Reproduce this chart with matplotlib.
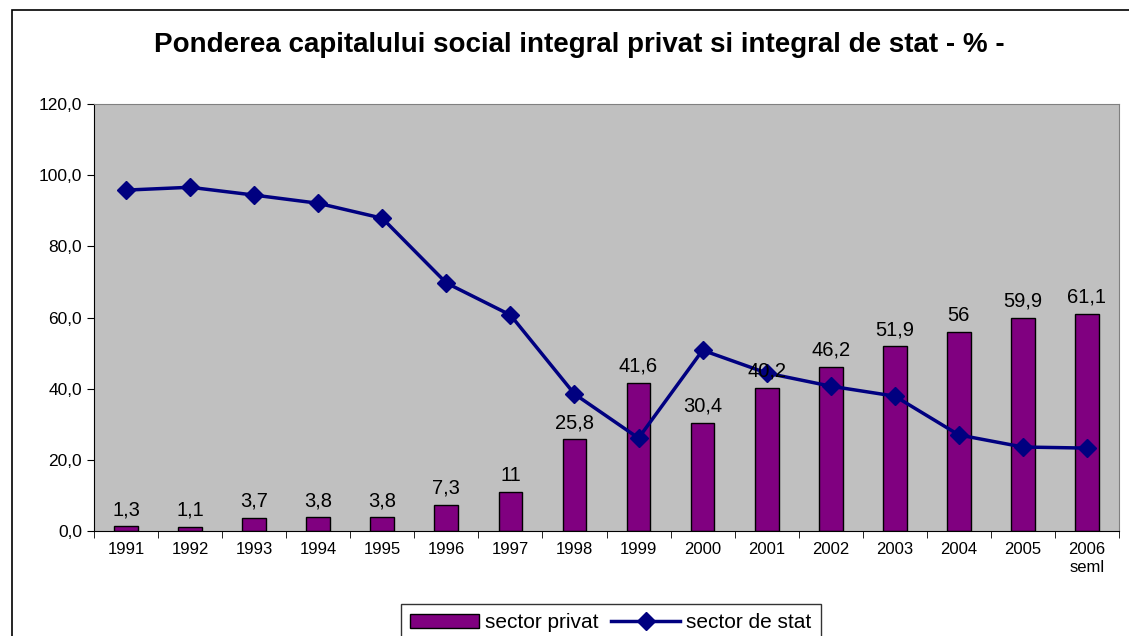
import matplotlib.pyplot as plt
import numpy as np
from matplotlib.patches import Rectangle

plt.rcParams["font.family"] = ["Liberation Sans", "DejaVu Sans"]

years = ["1991", "1992", "1993", "1994", "1995", "1996", "1997", "1998",
         "1999", "2000", "2001", "2002", "2003", "2004", "2005", "2006\nseml"]
privat = [1.3, 1.1, 3.7, 3.8, 3.8, 7.3, 11, 25.8, 41.6, 30.4, 40.2, 46.2,
          51.9, 56, 59.9, 61.1]
privat_lbl = ["1,3", "1,1", "3,7", "3,8", "3,8", "7,3", "11", "25,8", "41,6",
              "30,4", "40,2", "46,2", "51,9", "56", "59,9", "61,1"]
stat = [95.8, 96.6, 94.4, 92.1, 87.9, 69.7, 60.7, 38.5, 26.1, 50.8, 44.4,
        40.7, 37.9, 27.0, 23.6, 23.3]
yticks = [0, 20, 40, 60, 80, 100, 120]

fig = plt.figure(figsize=(11.29, 6.36), dpi=100)
# outer chart frame (cut off at right/bottom like the reference)
fig.patches.append(Rectangle((12 / 1129, -0.05), 1.1, 0.05 + (636 - 10) / 636,
                             transform=fig.transFigure, fill=False,
                             edgecolor="black", lw=1.2))

ax = fig.add_axes([94 / 1129, (636 - 531) / 636, (1119 - 94) / 1129, (531 - 104) / 636])
ax.set_facecolor("#C0C0C0")
x = np.arange(len(years))
bars = ax.bar(x, privat, width=0.37, color="#800080", edgecolor="black", lw=1,
              label="sector privat", zorder=2)
line, = ax.plot(x, stat, color="#000080", lw=2.5, marker="D", ms=9,
                label="sector de stat", zorder=3)
for xi, v, s in zip(x, privat, privat_lbl):
    ax.text(xi, v + 2.0, s, ha="center", va="bottom", fontsize=14.5, zorder=4)

ax.set_xlim(-0.5, len(years) - 0.5)
ax.set_ylim(0, 120)
ax.set_yticks(yticks)
ax.set_yticklabels([f"{t:.1f}".replace(".", ",") for t in yticks], fontsize=12.5)
ax.set_xticks(x)
ax.set_xticklabels(years, fontsize=12, linespacing=1.25, va="top")
ax.tick_params(axis="x", length=0, pad=8)
ax.set_xticks(np.arange(-0.5, len(years), 1), minor=True)
ax.tick_params(axis="x", which="minor", length=5, direction="out")
ax.tick_params(axis="y", length=5, direction="out")
for side in ["top", "right"]:
    ax.spines[side].set_color("#808080")
for side in ["left", "bottom"]:
    ax.spines[side].set_color("black")

fig.text(579 / 1129, 1 - 45 / 636,
         "Ponderea capitalului social integral privat si integral de stat - % -",
         ha="center", va="center", fontsize=20, fontweight="bold")

leg = fig.legend([bars, line], ["sector privat", "sector de stat"],
                 loc="lower center", bbox_to_anchor=(611 / 1129, -0.025), ncol=2,
                 fontsize=15, frameon=True, fancybox=False, edgecolor="black",
                 handlelength=3.3, handletextpad=0.3, columnspacing=0.6,
                 borderpad=0.45)
leg.get_frame().set_linewidth(1.0)

fig.savefig("out.png", dpi=100)
